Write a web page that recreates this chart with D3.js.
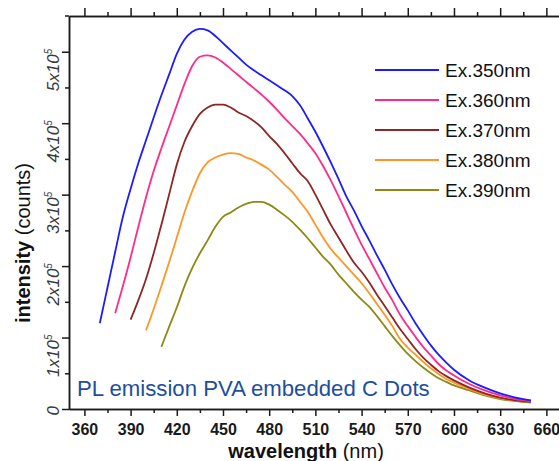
<!DOCTYPE html>
<html>
<head>
<meta charset="utf-8">
<script src="https://cdn.jsdelivr.net/npm/d3@7"></script>
<style>
  body { margin: 0; background: #fff; }
  svg { display: block; }
  text { font-family: "Liberation Sans", Arial, sans-serif; }
</style>
</head>
<body>
<svg width="559" height="461"></svg>
<script>
// emission wavelength grid (nm)
const wavelengths = [370, 375, 380, 385, 390, 395, 400, 405, 410, 415,
  420, 425, 430, 435, 440, 445, 450, 455, 460, 465,
  470, 475, 480, 485, 490, 495, 500, 505, 510, 515,
  520, 525, 530, 535, 540, 545, 550, 555, 560, 565,
  570, 575, 580, 585, 590, 595, 600, 610, 620, 630, 640, 650];

// intensity in units of 1e5 counts, null where the scan has not started
const ex350 = [1.20, 1.70, 2.20, 2.69, 3.08, 3.44, 3.76, 4.08, 4.39, 4.68,
  4.97, 5.17, 5.28, 5.32, 5.30, 5.22, 5.12, 5.02, 4.92, 4.82,
  4.74, 4.67, 4.60, 4.53, 4.46, 4.38, 4.25, 4.07, 3.88, 3.67,
  3.45, 3.22, 2.98, 2.78, 2.56, 2.36, 2.15, 1.95, 1.74, 1.55,
  1.38, 1.20, 1.04, 0.89, 0.76, 0.65, 0.55, 0.40, 0.30, 0.22, 0.16, 0.12];
const ex360 = [null, null, 1.34, 1.72, 2.12, 2.55, 2.96, 3.33, 3.65, 3.95,
  4.25, 4.55, 4.80, 4.93, 4.95, 4.92, 4.85, 4.76, 4.67, 4.58,
  4.49, 4.40, 4.30, 4.19, 4.07, 3.96, 3.85, 3.72, 3.58, 3.40,
  3.20, 2.98, 2.75, 2.52, 2.30, 2.10, 1.90, 1.70, 1.52, 1.32,
  1.16, 1.01, 0.87, 0.75, 0.63, 0.54, 0.47, 0.35, 0.26, 0.19, 0.14, 0.11];
const ex370 = [null, null, null, null, 1.25, 1.52, 1.82, 2.18, 2.58, 3.00,
  3.42, 3.74, 3.96, 4.13, 4.22, 4.26, 4.26, 4.22, 4.15, 4.10,
  4.03, 3.94, 3.82, 3.71, 3.58, 3.44, 3.30, 3.19, 3.00, 2.79,
  2.58, 2.40, 2.22, 2.05, 1.92, 1.77, 1.60, 1.44, 1.28, 1.12,
  0.98, 0.84, 0.72, 0.62, 0.53, 0.46, 0.40, 0.30, 0.22, 0.16, 0.12, 0.10];
const ex380 = [null, null, null, null, null, null, 1.10, 1.40, 1.72, 2.05,
  2.40, 2.75, 3.05, 3.30, 3.45, 3.52, 3.56, 3.58, 3.57, 3.52,
  3.48, 3.42, 3.35, 3.25, 3.14, 3.04, 2.90, 2.76, 2.58, 2.40,
  2.24, 2.12, 2.00, 1.88, 1.76, 1.62, 1.47, 1.32, 1.16, 0.98,
  0.86, 0.76, 0.66, 0.57, 0.49, 0.42, 0.37, 0.28, 0.20, 0.15, 0.12, 0.10];
const ex390 = [null, null, null, null, null, null, null, null, 0.87, 1.15,
  1.42, 1.72, 1.97, 2.18, 2.36, 2.55, 2.69, 2.75, 2.82, 2.87,
  2.90, 2.90, 2.86, 2.79, 2.71, 2.62, 2.51, 2.39, 2.26, 2.13,
  2.02, 1.88, 1.76, 1.64, 1.53, 1.43, 1.30, 1.16, 1.02, 0.89,
  0.77, 0.67, 0.58, 0.50, 0.43, 0.38, 0.33, 0.26, 0.19, 0.14, 0.11, 0.09];

const seriesNames = ["Ex.350nm", "Ex.360nm", "Ex.370nm", "Ex.380nm", "Ex.390nm"];
const seriesValues = [ex350, ex360, ex370, ex380, ex390];
const seriesColors = ["#1c1cff", "#ff2a8c", "#8e2626", "#ff9526", "#8a8a14"];

const xMajor = [360, 390, 420, 450, 480, 510, 540, 570, 600, 630, 660];
const xMinor = [375, 405, 435, 465, 495, 525, 555, 585, 615, 645];
const yMajor = [0, 1, 2, 3, 4, 5];
const yMinor = [0.5, 1.5, 2.5, 3.5, 4.5];

const svg = d3.select("svg");

const x = d3.scaleLinear().domain([350, 668.2]).range([69, 559]);
const y = d3.scaleLinear().domain([0, 5.5]).range([409, 16]);

// axes
const axisColor = "#1a1a1a";

const topAxis = svg.append("g").attr("transform", "translate(0,16)");
topAxis.call(d3.axisTop(x).tickValues(xMajor).tickSize(8).tickSizeOuter(0).tickFormat(""));
topAxis.append("g").call(d3.axisTop(x).tickValues(xMinor).tickSize(4).tickSizeOuter(0).tickFormat(""));
topAxis.append("line").attr("class", "stub").attr("x1", 65).attr("x2", 69).attr("y1", 0).attr("y2", 0);

const bottomAxis = svg.append("g").attr("transform", "translate(0,409)");
bottomAxis.call(d3.axisBottom(x).tickValues(xMajor).tickSize(7).tickPadding(8).tickSizeOuter(0));
bottomAxis.append("g").call(d3.axisBottom(x).tickValues(xMinor).tickSize(4).tickSizeOuter(0).tickFormat(""));
bottomAxis.selectAll("text")
  .attr("font-size", 16)
  .attr("font-weight", "bold")
  .attr("font-family", "Liberation Sans, Arial, sans-serif")
  .attr("fill", "#1a1a1a");

const leftAxis = svg.append("g").attr("transform", "translate(69,0)");
leftAxis.call(d3.axisLeft(y).tickValues(yMajor).tickSize(7).tickSizeOuter(0).tickFormat(""));
leftAxis.append("g").call(d3.axisLeft(y).tickValues(yMinor).tickSize(4).tickSizeOuter(0).tickFormat(""));

svg.selectAll(".domain, .tick line, .stub")
  .attr("stroke", axisColor)
  .attr("stroke-width", 1.5);

// y tick labels, rotated, e.g. 5x10^5
const yLabels = svg.append("g")
  .selectAll("text")
  .data(yMajor)
  .enter()
  .append("text")
  .attr("transform", d => "translate(59," + (y(d) - 3) + ") rotate(-90)")
  .attr("text-anchor", "end")
  .attr("font-style", "italic")
  .attr("font-size", 17)
  .attr("fill", "#3a3a3a");

yLabels.each(function (d) {
  const t = d3.select(this);
  if (d === 0) {
    t.text("0");
  } else {
    t.append("tspan").text(d + "x10");
    t.append("tspan").attr("font-size", 10).attr("dy", -7).text("5");
  }
});

// curves
const line = d3.line()
  .defined(d => d != null)
  .x((d, i) => x(wavelengths[i]))
  .y(d => y(d))
  .curve(d3.curveMonotoneX);

svg.append("g")
  .selectAll("path")
  .data(seriesValues.slice().reverse())
  .enter()
  .append("path")
  .attr("d", d => line(d))
  .attr("fill", "none")
  .attr("stroke", (d, i) => seriesColors[seriesColors.length - 1 - i])
  .attr("stroke-width", 1.8)
  .attr("stroke-linejoin", "round");

// legend
const legend = svg.append("g")
  .selectAll("g")
  .data(seriesNames)
  .enter()
  .append("g")
  .attr("transform", (d, i) => "translate(375," + (70 + i * 30) + ")");

legend.append("line")
  .attr("x1", 0)
  .attr("x2", 64)
  .attr("stroke", (d, i) => seriesColors[i])
  .attr("stroke-width", 2.2);

legend.append("text")
  .attr("x", 70)
  .attr("y", 7)
  .attr("font-family", "Lato, 'Open Sans', sans-serif")
  .attr("font-size", 19)
  .attr("fill", "#111")
  .text(d => d);

// annotation
svg.append("text")
  .attr("x", 77)
  .attr("y", 396)
  .attr("font-size", 22.2)
  .attr("fill", "#1d4f9c")
  .text("PL emission PVA embedded C Dots");

// axis titles
const yTitle = svg.append("text")
  .attr("transform", "translate(30,243) rotate(-90)")
  .attr("text-anchor", "middle")
  .attr("font-size", 20)
  .attr("fill", "#111");
yTitle.append("tspan").attr("font-weight", "bold").text("intensity");
yTitle.append("tspan").text(" (counts)");

const xTitle = svg.append("text")
  .attr("x", 306)
  .attr("y", 458)
  .attr("text-anchor", "middle")
  .attr("font-size", 20)
  .attr("fill", "#111");
xTitle.append("tspan").attr("font-weight", "bold").text("wavelength");
xTitle.append("tspan").text(" (nm)");
</script>
</body>
</html>
